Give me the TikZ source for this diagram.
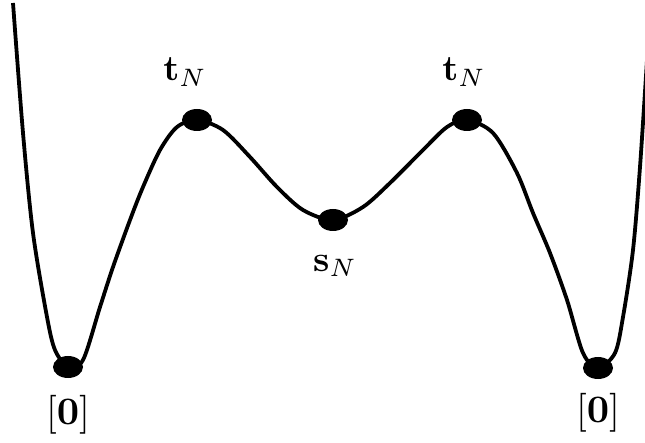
\documentclass[tikz,border=0pt]{standalone}
\usetikzlibrary{shapes.geometric}
\begin{document}
\begin{tikzpicture}[x=1pt,y=-1pt,
  dotn/.style={ellipse, fill=black, minimum width=30pt, minimum height=22pt, inner sep=0pt},
  lbl/.style={scale=3.6, inner sep=0pt}]
\useasboundingbox (0,0) rectangle (645,443);
\draw[line width=3.8pt, line join=round] plot[smooth, tension=0.5] coordinates {
 (13,3) (23,133) (33,233) (47,317) (55,350) (68,367) (83,360) (100,307) (113,267)
 (130,220) (143,187) (160,150) (177,127) (197,120) (223,130) (250,157) (277,187)
 (303,210) (333,220) (363,207) (390,183) (423,150) (447,127) (467,120) (493,133)
 (517,173) (533,213) (550,253) (567,300) (583,353) (598,368) (615,353) (623,317)
 (633,250) (640,167) (647,60)};
\node[dotn] (m1) at (68,367) {};
\node[dotn] (t1) at (197,120) {};
\node[dotn] (s)  at (333,220) {};
\node[dotn] (t2) at (467,120) {};
\node[dotn] (m2) at (598,368) {};
\node[lbl] (lt1) at (185,72) {$\mathbf{t}_N$};
\node[lbl] (lt2) at (464,72) {$\mathbf{t}_N$};
\node[lbl] (ls)  at (335,266) {$\mathbf{s}_N$};
\node[lbl, scale=1.08] (lm1) at (68,415) {$[\mathbf{0}]$};
\node[lbl, scale=1.08] (lm2) at (598,413) {$[\mathbf{0}]$};
\end{tikzpicture}
\end{document}
